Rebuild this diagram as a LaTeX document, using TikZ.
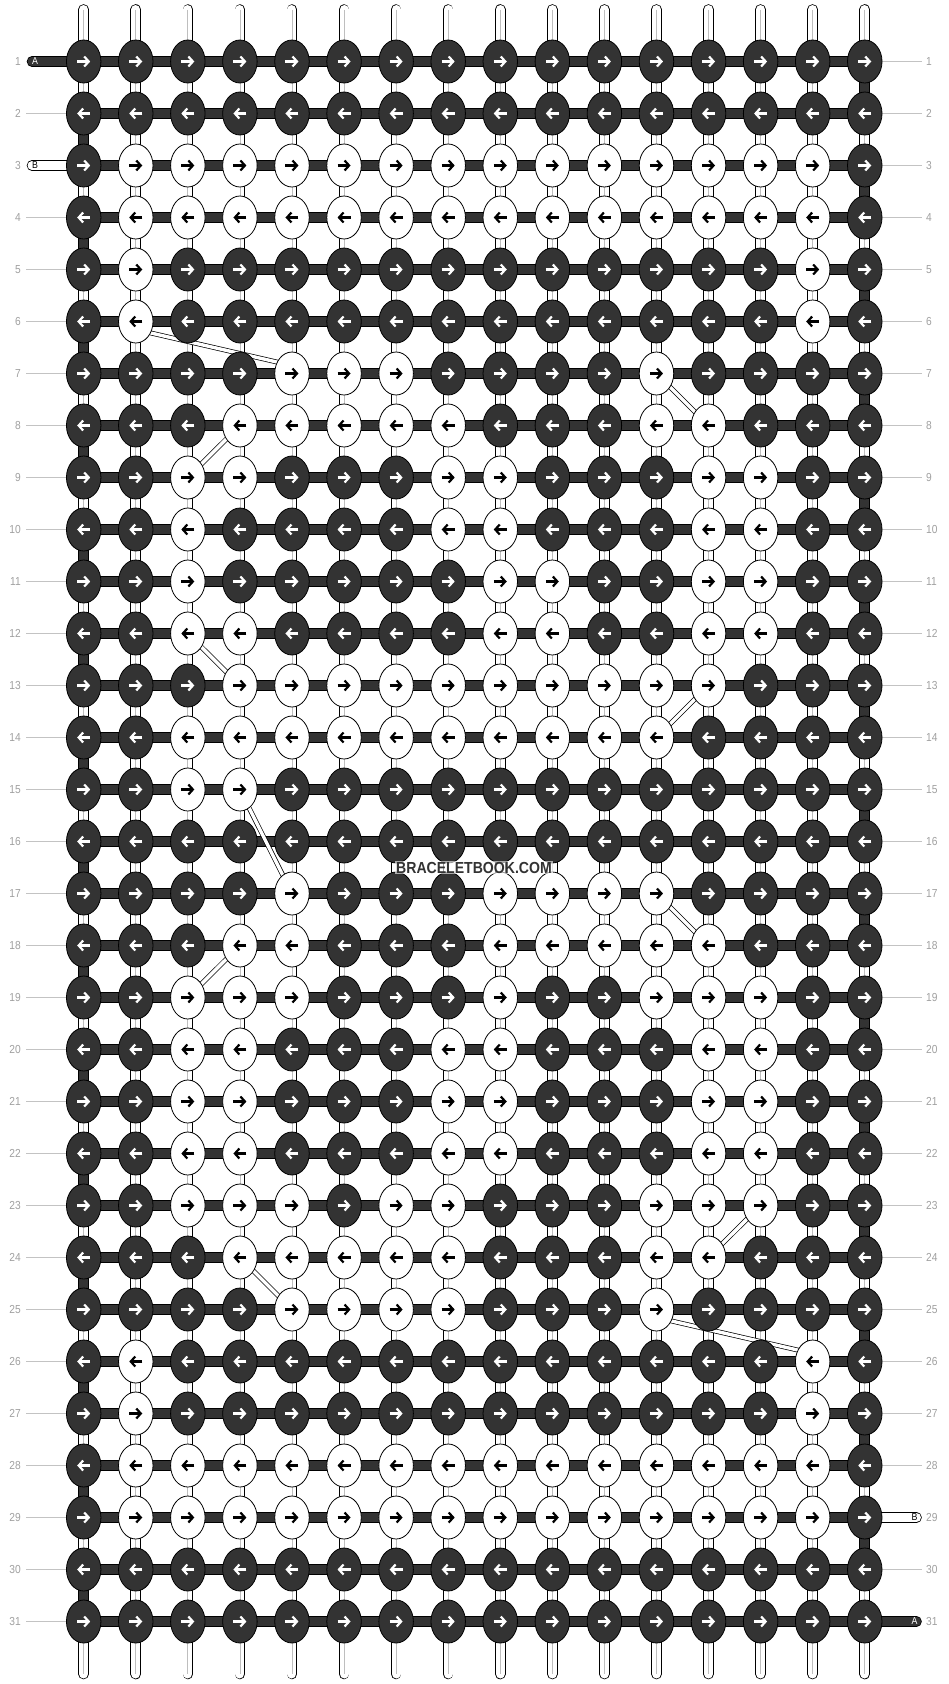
\documentclass[tikz,border=0pt]{standalone}
\usepackage{fontspec}
\newfontfamily\narrowsans[FakeStretch=0.88]{Liberation Sans}
\usetikzlibrary{arrows.meta, shapes.geometric}
\definecolor{knotdark}{RGB}{51,51,51}
\definecolor{numgray}{RGB}{160,160,160}
\definecolor{linegray}{RGB}{195,195,195}
\definecolor{midgray}{RGB}{190,190,190}
\pgfdeclarelayer{paper}
\pgfdeclarelayer{threads}
\pgfdeclarelayer{bands}
\pgfsetlayers{paper,threads,bands,main}
\tikzstyle{knotd} = [draw=black, line width=0.8pt, fill=knotdark, ellipse, inner sep=0pt,
    minimum width=34.5pt, minimum height=43pt]
\tikzstyle{knotw} = [knotd, fill=white]
\tikzstyle{arrd} = [white, line width=2.2pt, -{Straight Barb[length=4.5pt,width=10pt]}]
\tikzstyle{arrw} = [arrd, black]
\tikzstyle{darkthread} = [draw=black, line width=0.8pt, double=knotdark, double distance=9pt]
\tikzstyle{lightthread} = [draw=black, line width=0.8pt, double=white, double distance=9pt]
\tikzstyle{threadmid} = [draw=midgray, line width=0.8pt]
\tikzstyle{band} = [draw=black, line width=0.7pt, double=white, double distance=3.4pt]
\tikzstyle{num} = [text=numgray, inner sep=0pt, font=\narrowsans\fontsize{11.6pt}{12pt}\selectfont]
\tikzstyle{numline} = [draw=linegray, line width=0.8pt]
\tikzstyle{endlabel} = [inner sep=0pt, font=\narrowsans\fontsize{10pt}{10pt}\selectfont]

\begin{document}
\begin{tikzpicture}[x=1pt, y=-1pt]
    \begin{pgfonlayer}{paper}
        \fill[white] (0,0) rectangle (948,1684);
    \end{pgfonlayer}
    \useasboundingbox (0,0) rectangle (948,1684);

    % Place the knots
    \foreach \r/\bits in {
        1/{d,d,d,d,d,d,d,d,d,d,d,d,d,d,d,d},
        2/{d,d,d,d,d,d,d,d,d,d,d,d,d,d,d,d},
        3/{d,w,w,w,w,w,w,w,w,w,w,w,w,w,w,d},
        4/{d,w,w,w,w,w,w,w,w,w,w,w,w,w,w,d},
        5/{d,w,d,d,d,d,d,d,d,d,d,d,d,d,w,d},
        6/{d,w,d,d,d,d,d,d,d,d,d,d,d,d,w,d},
        7/{d,d,d,d,w,w,w,d,d,d,d,w,d,d,d,d},
        8/{d,d,d,w,w,w,w,w,d,d,d,w,w,d,d,d},
        9/{d,d,w,w,d,d,d,w,w,d,d,d,w,w,d,d},
        10/{d,d,w,d,d,d,d,w,w,d,d,d,w,w,d,d},
        11/{d,d,w,d,d,d,d,d,w,w,d,d,w,w,d,d},
        12/{d,d,w,w,d,d,d,d,w,w,d,d,w,w,d,d},
        13/{d,d,d,w,w,w,w,w,w,w,w,w,w,d,d,d},
        14/{d,d,w,w,w,w,w,w,w,w,w,w,d,d,d,d},
        15/{d,d,w,w,d,d,d,d,d,d,d,d,d,d,d,d},
        16/{d,d,d,d,d,d,d,d,d,d,d,d,d,d,d,d},
        17/{d,d,d,d,w,d,d,d,w,w,w,w,d,d,d,d},
        18/{d,d,d,w,w,d,d,d,w,w,w,w,w,d,d,d},
        19/{d,d,w,w,w,d,d,d,w,d,d,w,w,w,d,d},
        20/{d,d,w,w,d,d,d,w,w,d,d,d,w,w,d,d},
        21/{d,d,w,w,d,d,d,w,w,d,d,d,w,w,d,d},
        22/{d,d,w,w,d,d,d,w,w,d,d,d,w,w,d,d},
        23/{d,d,w,w,w,d,w,w,d,d,d,w,w,w,d,d},
        24/{d,d,d,w,w,w,w,w,d,d,d,w,w,d,d,d},
        25/{d,d,d,d,w,w,w,w,d,d,d,w,d,d,d,d},
        26/{d,w,d,d,d,d,d,d,d,d,d,d,d,d,w,d},
        27/{d,w,d,d,d,d,d,d,d,d,d,d,d,d,w,d},
        28/{d,w,w,w,w,w,w,w,w,w,w,w,w,w,w,d},
        29/{d,w,w,w,w,w,w,w,w,w,w,w,w,w,w,d},
        30/{d,d,d,d,d,d,d,d,d,d,d,d,d,d,d,d},
        31/{d,d,d,d,d,d,d,d,d,d,d,d,d,d,d,d}} {
        \pgfmathsetmacro\y{61.5+(\r-1)*52}
        \pgfmathsetmacro\dir{isodd(\r) ? 1 : -1}
        \foreach \b [count=\c] in \bits {
            \pgfmathsetmacro\x{83.7+(\c-1)*52.07}
            \pgfmathsetmacro\xa{\x-6.5*\dir}
            \pgfmathsetmacro\xb{\x+6.5*\dir}
            \node [knot\b] (k-\r-\c) at (\x,\y) {};
            \draw [arr\b] (\xa,\y) -- (\xb,\y);
        }
        % row numbers
        \node [num, anchor=east] (ln-\r) at (21,\y) {\r};
        \node [num, anchor=west] (rn-\r) at (926,\y) {\r};
    }

    % Threads behind the knots
    \begin{pgfonlayer}{threads}
        \foreach \c in {1,...,16} {
            \pgfmathsetmacro\x{83.7+(\c-1)*52.07}
            \coordinate (top-\c) at (\x,9.5);
            \coordinate (bot-\c) at (\x,1674);
            \draw [lightthread, line cap=round] (top-\c) -- (k-1-\c.center);
            \draw [threadmid] (top-\c) -- (k-1-\c.center);
            \draw [lightthread, line cap=round] (k-31-\c.center) -- (bot-\c);
            \draw [threadmid] (k-31-\c.center) -- (bot-\c);
            \foreach \r in {1,...,30} {
                \pgfmathtruncatemacro\s{\r+1}
                \pgfmathtruncatemacro\isdark{(\c==1 && iseven(\r)) || (\c==16 && isodd(\r))}
                \ifnum\isdark=1
                    \draw [darkthread] (k-\r-\c.center) -- (k-\s-\c.center);
                \else
                    \draw [lightthread] (k-\r-\c.center) -- (k-\s-\c.center);
                    \draw [threadmid] (k-\r-\c.center) -- (k-\s-\c.center);
                \fi
            }
        }
        \foreach \r in {1,...,31}
            \draw [darkthread] (k-\r-1.center) -- (k-\r-16.center);

        % loose ends of the two row threads
        \coordinate (endA-l) at (32,61.5);
        \coordinate (endB-l) at (32,165.5);
        \coordinate (endB-r) at (916.5,1517.5);
        \coordinate (endA-r) at (916.5,1621.5);
        \draw [darkthread, line cap=round] (endA-l) -- (k-1-1.center);
        \draw [lightthread, line cap=round] (endB-l) -- (k-3-1.center);
        \draw [lightthread, line cap=round] (k-29-16.center) -- (endB-r);
        \draw [darkthread, line cap=round] (k-31-16.center) -- (endA-r);

        % guide lines to the row numbers
        \foreach \r in {2,4,5,...,31}
            \draw [numline, shorten <=5pt] (ln-\r.east) -- (k-\r-1.west);
        \foreach \r in {1,...,28,30}
            \draw [numline, shorten >=4pt] (k-\r-16.east) -- (rn-\r.west);
    \end{pgfonlayer}

    \node [endlabel, text=white] (lblA-l) at ([xshift=3pt]endA-l) {A};
    \node [endlabel] (lblB-l) at ([xshift=3pt]endB-l) {B};
    \node [endlabel] (lblB-r) at ([xshift=-2pt]endB-r) {B};
    \node [endlabel, text=white] (lblA-r) at ([xshift=-2pt]endA-r) {A};

    % Threads that change column
    \begin{pgfonlayer}{bands}
        \foreach \p/\q/\sp/\sq in {6-2/7-5/-8/8, 7-12/8-13/0/0, 8-4/9-3/0/0,
            12-3/13-4/0/0, 13-13/14-12/0/0, 15-4/17-5/0/0, 17-12/18-13/0/0,
            18-4/19-3/0/0, 23-14/24-13/0/0, 24-4/25-5/0/0, 25-12/26-15/-8/8}
            \draw [band] ([yshift=\sp pt]k-\p.center) -- ([yshift=\sq pt]k-\q.center);
    \end{pgfonlayer}

    \node [fill=white, fill opacity=0.6, text opacity=1, text=knotdark, inner sep=1pt,
        font=\narrowsans\bfseries\fontsize{16pt}{16pt}\selectfont] (watermark)
        at (474,867.5) {BRACELETBOOK.COM};
\end{tikzpicture}
\end{document}
